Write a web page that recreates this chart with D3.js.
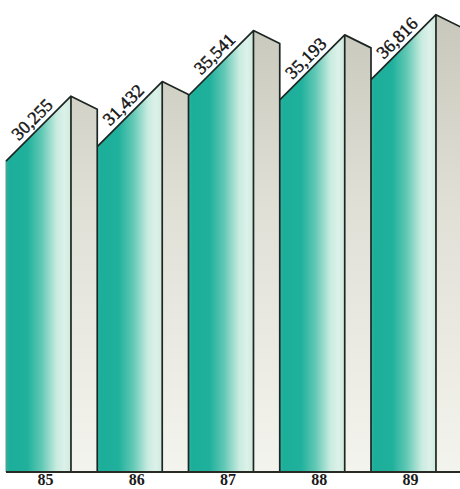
<!DOCTYPE html>
<html>
<head>
<meta charset="utf-8">
<script src="https://cdn.jsdelivr.net/npm/d3@7"></script>
<style>
  html, body { margin: 0; padding: 0; background: #ffffff; }
  svg { display: block; }
</style>
</head>
<body>
<div id="chart"></div>
<script>
// Annual totals, fiscal years 1985–1989
const years = ["85", "86", "87", "88", "89"];
const totals = [30255, 31432, 35541, 35193, 36816];
const valueLabels = ["30,255", "31,432", "35,541", "35,193", "36,816"];

const width = 460, height = 489;
const baseY = 472;
const frontShare = 0.712;   // front face share of each band; the rest is the side face
const sideDrop = 13;        // how far the side face's top edge falls

const svg = d3.select("#chart").append("svg")
  .attr("width", width).attr("height", height);

const x = d3.scaleBand().domain(years).range([6, 462.25]).paddingInner(0).paddingOuter(0);
const y = d3.scaleLinear().domain([0, 38000]).range([baseY, 0]);

const defs = svg.append("defs");

const front = defs.append("linearGradient").attr("id", "frontGrad")
  .attr("x1", "0").attr("y1", "0").attr("x2", "1").attr("y2", "0");
[[0, "#2db4a3"], [0.06, "#1bae99"], [0.33, "#20b19d"], [0.55, "#62c8b5"],
 [0.78, "#c9ebe0"], [0.9, "#dcf1e9"], [1, "#d0eadf"]]
  .forEach(([o, c]) => front.append("stop").attr("offset", o).attr("stop-color", c));

const side = defs.append("linearGradient").attr("id", "sideGrad")
  .attr("gradientUnits", "userSpaceOnUse")
  .attr("x1", 0).attr("y1", 20).attr("x2", 0).attr("y2", baseY);
[[0, "#c8c8bc"], [0.4, "#dfdfd6"], [1, "#f4f4ee"]]
  .forEach(([o, c]) => side.append("stop").attr("offset", o).attr("stop-color", c));

const bars = years.map((yr, i) => {
  const x0 = x(yr);
  const fw = x.bandwidth() * frontShare;
  const sw = x.bandwidth() - fw;
  const peak = y(totals[i]);
  return { yr, i, x0, x1: x0 + fw, x2: x0 + fw + sw, peak, low: peak + fw };
});

const g = svg.append("g");

// side faces
g.selectAll("path.side").data(bars).join("path")
  .attr("class", "side")
  .attr("d", d => `M${d.x1},${d.peak}L${d.x2},${d.peak + sideDrop}L${d.x2},${baseY}L${d.x1},${baseY}Z`)
  .attr("fill", "url(#sideGrad)");

// front faces with the slanted top
g.selectAll("path.front").data(bars).join("path")
  .attr("class", "front")
  .attr("d", d => `M${d.x0},${d.low}L${d.x1},${d.peak}L${d.x1},${baseY}L${d.x0},${baseY}Z`)
  .attr("fill", "url(#frontGrad)");

// first bar's open left edge
g.append("line")
  .attr("x1", bars[0].x0).attr("x2", bars[0].x0)
  .attr("y1", bars[0].low).attr("y2", baseY)
  .attr("stroke", "#5f9a8e").attr("stroke-width", 1);

// dark outlines: slant, front right edge, side top, side right edge
g.selectAll("path.edge").data(bars).join("path")
  .attr("class", "edge")
  .attr("d", d => `M${d.x0},${d.low}L${d.x1},${d.peak}L${d.x2},${d.peak + sideDrop}L${d.x2},${baseY}` +
                  `M${d.x1},${d.peak}L${d.x1},${baseY}`)
  .attr("fill", "none")
  .attr("stroke", "#1d2623")
  .attr("stroke-width", 1.7)
  .attr("stroke-linejoin", "round");

// baseline
svg.append("line")
  .attr("x1", 6).attr("x2", width).attr("y1", baseY).attr("y2", baseY)
  .attr("stroke", "#2a2a24").attr("stroke-width", 2.2);

// value labels along the slanted tops
svg.selectAll("text.value").data(bars).join("text")
  .attr("class", "value")
  .attr("transform", d => `translate(${(d.x0 + d.x1) / 2},${(d.low + d.peak) / 2}) rotate(-45)`)
  .attr("x", 2).attr("y", -5)
  .attr("text-anchor", "middle")
  .attr("font-family", "'Liberation Serif', 'DejaVu Serif', serif")
  .attr("font-size", 18)
  .attr("fill", "#141414")
  .attr("stroke", "#141414")
  .attr("stroke-width", 0.45)
  .text(d => valueLabels[d.i]);

// year labels
svg.selectAll("text.year").data(bars).join("text")
  .attr("class", "year")
  .attr("x", d => (d.x0 + d.x1) / 2 + 7)
  .attr("y", 485)
  .attr("text-anchor", "middle")
  .attr("font-family", "'Liberation Serif', 'DejaVu Serif', serif")
  .attr("font-weight", "bold")
  .attr("font-size", 16)
  .attr("fill", "#1a1a1a")
  .text(d => d.yr);
</script>
</body>
</html>
